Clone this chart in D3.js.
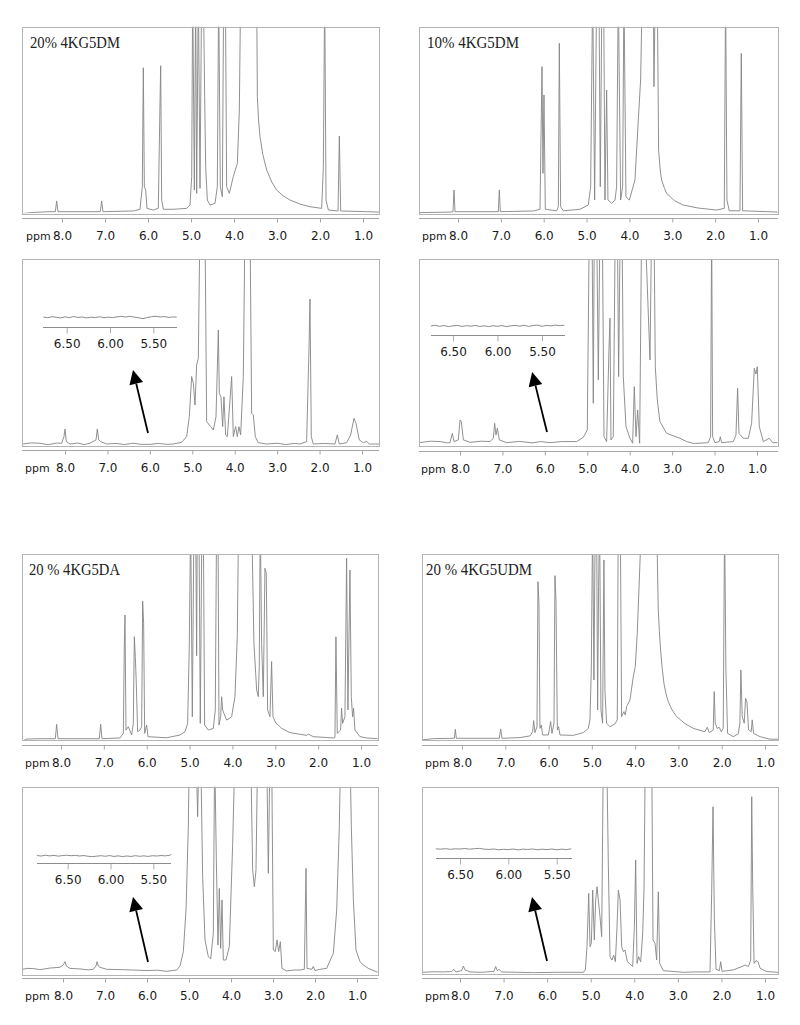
<!DOCTYPE html>
<html><head><meta charset="utf-8">
<script src="https://cdn.jsdelivr.net/npm/d3@7"></script>
<style>body{margin:0;background:#fff}svg{display:block}</style>
</head><body><svg id="c" width="800" height="1025"></svg>
<script>
// ---------- data (ppm, relative intensity; 1 = top of frame, >1 = off-scale) ----------
const tickValues = [8, 7, 6, 5, 4, 3, 2, 1];
const insetTicks = [6.5, 6.0, 5.5];
const titles = ["20% 4KG5DM", "10% 4KG5DM", "20 % 4KG5DA", "20 % 4KG5UDM"];

const spec20DM = [[8.92,-0.01],[8.67,-0.004],[8.28,0],[8.155,0],[8.124,0.058],[8.093,0],[7.109,0],[7.078,0.058],[7.047,0],[6.341,0.004],[6.186,0.013],[6.132,0.135],[6.109,0.778],[6.085,0.135],[6.054,0.117],[6.023,0.018],[5.876,0.009],[5.76,0.018],[5.721,0.586],[5.705,0.789],[5.682,0.063],[5.643,0.013],[5.411,0.013],[5.1,0.018],[5.023,0.036],[4.984,0.19],[4.961,1.2],[4.922,0.117],[4.891,1.2],[4.868,0.099],[4.829,1.2],[4.791,0.126],[4.752,1.2],[4.713,1.2],[4.682,0.622],[4.659,0.243],[4.62,0.063],[4.558,0.036],[4.442,0.045],[4.388,0.135],[4.357,1.2],[4.318,0.135],[4.271,0.081],[4.24,1.2],[4.2,1.2],[4.171,0.135],[4.109,0.099],[4.016,0.19],[3.922,0.261],[3.876,0.55],[3.845,1.2],[3.473,1.2],[3.457,0.622],[3.43,0.5],[3.395,0.405],[3.33,0.31],[3.24,0.225],[3.12,0.16],[3.008,0.117],[2.85,0.085],[2.698,0.063],[2.45,0.04],[2.233,0.027],[1.961,0.018],[1.922,0.243],[1.891,1.2],[1.86,0.063],[1.806,0.009],[1.581,0.004],[1.55,0.409],[1.519,0.004],[0.915,0],[0.62,-0.002]];

const spec10DM = [[8.902,-0.005],[8.187,-0.002],[8.117,0],[8.093,0.117],[8.07,0],[7.059,0],[7.036,0.117],[7.012,0],[6.243,0.004],[6.087,0.013],[6.04,0.784],[6.017,0.207],[5.994,0.631],[5.963,0.013],[5.698,0.005],[5.659,0.027],[5.636,0.91],[5.605,0.027],[5.543,0.005],[5.154,0.013],[4.96,0.036],[4.905,0.135],[4.858,1.2],[4.812,0.063],[4.765,1.2],[4.711,1.2],[4.68,0.135],[4.641,1.2],[4.602,1.2],[4.571,0.063],[4.532,0.658],[4.501,0.063],[4.415,0.045],[4.337,0.063],[4.299,0.135],[4.26,1.2],[4.205,0.063],[4.159,0.135],[4.128,1.2],[4.081,0.081],[4.003,0.063],[3.871,0.171],[3.793,0.495],[3.739,0.712],[3.7,1.2],[3.443,1.2],[3.428,0.676],[3.397,1.2],[3.35,1.2],[3.319,0.333],[3.28,0.22],[3.249,0.171],[3.18,0.125],[3.132,0.099],[2.95,0.06],[2.743,0.036],[2.4,0.02],[1.966,0.009],[1.787,0.018],[1.756,1.2],[1.725,0.063],[1.67,0.005],[1.421,0.005],[1.39,0.856],[1.359,0.005],[0.543,-0.002]];

const spec20DMzoom = [[9.005,0],[8.8,0.006],[8.589,0.004],[8.4,-0.004],[8.2,0.005],[8.079,0.004],[8.024,0.04],[8.0,0.081],[7.969,0.013],[7.882,0],[7.7,0.005],[7.55,-0.003],[7.411,0.004],[7.269,0.022],[7.238,0.081],[7.206,0.022],[7.159,0.013],[7.018,0],[6.8,0.003],[6.6,-0.003],[6.4,0.004],[6.2,-0.002],[5.997,-0.002],[5.8,0.003],[5.6,-0.002],[5.447,0],[5.251,0.009],[5.133,0.04],[5.07,0.148],[5.015,0.365],[4.976,0.329],[4.936,0.211],[4.897,0.428],[4.858,0.464],[4.819,1.2],[4.701,1.2],[4.661,0.121],[4.567,0.094],[4.504,0.076],[4.441,0.148],[4.386,0.617],[4.363,0.274],[4.324,0.256],[4.284,0.094],[4.253,0.256],[4.214,0.049],[4.174,0.04],[4.072,0.365],[4.033,0.04],[3.978,0.094],[3.939,0.04],[3.9,0.094],[3.86,0.049],[3.797,0.365],[3.758,1.2],[3.64,1.2],[3.601,0.166],[3.562,0.157],[3.515,0.04],[3.444,0.007],[3.248,0],[3.0,0.004],[2.8,-0.003],[2.6,0.003],[2.462,0],[2.305,0.013],[2.25,0.509],[2.226,0.785],[2.195,0.04],[2.148,0],[1.9,0.003],[1.637,0],[1.582,0.049],[1.535,0],[1.362,0.007],[1.268,0.049],[1.189,0.139],[1.142,0.112],[1.064,0.022],[0.969,0.007],[0.891,0.014],[0.828,0],[0.592,0]];

const spec10DMzoom = [[8.958,-0.002],[8.7,0.006],[8.471,0.004],[8.3,-0.003],[8.236,-0.002],[8.181,0.049],[8.141,0.004],[8.039,0.013],[8.0,0.122],[7.969,0.113],[7.921,0.013],[7.764,0],[7.5,0.006],[7.293,0.004],[7.214,0.022],[7.183,0.104],[7.152,0.04],[7.12,0.077],[7.073,0.013],[6.9,-0.002],[6.6,0.005],[6.3,-0.003],[6.1,0.004],[5.879,-0.002],[5.6,0.004],[5.251,0.004],[5.094,0.027],[5.0,0.067],[4.952,1.2],[4.889,1.2],[4.858,0.213],[4.834,1.2],[4.779,1.2],[4.74,0.341],[4.701,1.2],[4.646,1.2],[4.606,0.031],[4.544,0.004],[4.489,0.505],[4.465,0.678],[4.442,0.013],[4.387,0.031],[4.34,1.2],[4.292,1.2],[4.261,0.359],[4.222,1.2],[4.182,1.2],[4.151,0.359],[4.088,0.086],[3.994,0.022],[3.931,-0.005],[3.892,0.304],[3.852,0.031],[3.813,0.177],[3.766,-0.005],[3.719,1.2],[3.64,1.2],[3.522,0.45],[3.483,1.2],[3.428,1.2],[3.397,0.413],[3.35,0.231],[3.287,0.113],[3.13,0.049],[2.815,0.022],[2.658,0.004],[2.5,-0.006],[2.344,-0.005],[2.148,-0.002],[2.093,0.031],[2.069,1.2],[2.046,0.031],[1.991,-0.002],[1.889,0.004],[1.865,0.031],[1.834,-0.002],[1.559,0.004],[1.496,0.04],[1.457,0.295],[1.425,0.049],[1.323,0.022],[1.205,0.022],[1.127,0.104],[1.064,0.404],[1.025,0.373],[0.993,0.413],[0.946,0.086],[0.851,0.004],[0.71,0.022],[0.632,-0.002],[0.514,-0.002]];

const spec20DA = [[8.902,-0.013],[8.801,-0.002],[8.49,0],[8.132,0],[8.101,0.078],[8.07,0],[7.106,0],[7.075,0.078],[7.044,0],[6.624,0.004],[6.546,0.029],[6.523,0.508],[6.507,0.671],[6.484,0.047],[6.429,0.065],[6.39,0.043],[6.351,0.02],[6.313,0.083],[6.289,0.553],[6.266,0.445],[6.243,0.3],[6.212,0.038],[6.157,0.047],[6.118,0.065],[6.095,0.747],[6.072,0.626],[6.048,0.029],[6.002,0.074],[5.97,0.011],[5.535,0.005],[5.224,0.02],[5.107,0.038],[5.045,0.083],[5.006,0.517],[4.975,1.2],[4.936,0.119],[4.897,1.2],[4.858,1.2],[4.835,0.45],[4.82,1.2],[4.781,1.2],[4.75,0.083],[4.711,1.2],[4.68,1.2],[4.649,0.074],[4.563,0.047],[4.446,0.056],[4.4,0.156],[4.369,1.2],[4.337,1.2],[4.314,0.074],[4.275,0.119],[4.252,0.228],[4.229,0.156],[4.198,0.137],[4.135,0.101],[4.019,0.119],[3.941,0.228],[3.887,0.553],[3.855,1.2],[3.552,1.2],[3.498,0.517],[3.435,0.264],[3.397,0.228],[3.374,0.391],[3.35,1.2],[3.319,0.517],[3.28,0.228],[3.241,0.924],[3.21,0.897],[3.179,0.156],[3.124,0.119],[3.086,0.418],[3.054,0.119],[2.984,0.083],[2.93,0.074],[2.852,0.056],[2.658,0.033],[2.269,0.018],[2.23,0.025],[2.113,0.011],[1.647,0.004],[1.608,0.007],[1.585,0.553],[1.554,0.029],[1.476,0.047],[1.453,0.165],[1.429,0.083],[1.375,0.119],[1.336,0.978],[1.305,0.156],[1.258,0.915],[1.227,0.228],[1.196,0.119],[1.173,0.165],[1.142,0.047],[1.023,0.011],[0.869,0.004],[0.613,0]];

const spec20UDM = [[8.932,-0.009],[8.662,-0.002],[8.2,0],[8.177,0],[8.154,0.049],[8.131,0],[7.138,0],[7.107,0.051],[7.076,0],[6.66,0.004],[6.43,0.013],[6.368,0.036],[6.345,0.096],[6.314,0.031],[6.268,0.063],[6.245,0.851],[6.222,0.734],[6.199,0.054],[6.168,0.072],[6.137,0.018],[6.006,0.018],[5.952,0.091],[5.921,0.027],[5.875,0.082],[5.852,0.884],[5.829,0.752],[5.798,0.045],[5.768,0.063],[5.737,0.018],[5.429,0.016],[5.198,0.031],[5.082,0.054],[5.044,0.1],[5.013,0.371],[4.982,1.2],[4.952,0.317],[4.921,1.2],[4.89,1.2],[4.867,0.154],[4.844,0.824],[4.821,1.2],[4.79,0.154],[4.752,0.082],[4.721,0.969],[4.698,0.263],[4.66,0.082],[4.582,0.063],[4.467,0.078],[4.413,0.1],[4.39,1.2],[4.343,1.2],[4.313,0.118],[4.259,0.145],[4.228,0.127],[4.197,0.172],[4.12,0.208],[4.043,0.335],[3.997,0.39],[3.951,0.571],[3.889,0.951],[3.851,1.2],[3.505,1.2],[3.466,0.697],[3.44,0.58],[3.412,0.48],[3.375,0.38],[3.335,0.299],[3.29,0.245],[3.235,0.199],[3.15,0.155],[3.042,0.118],[2.85,0.08],[2.657,0.054],[2.388,0.036],[2.334,0.06],[2.288,0.031],[2.196,0.045],[2.173,0.254],[2.15,0.082],[2.103,0.054],[2.057,0.06],[2.011,0.036],[1.965,0.054],[1.934,1.2],[1.903,0.371],[1.865,0.027],[1.734,0.009],[1.618,0.024],[1.58,0.082],[1.557,0.371],[1.526,0.118],[1.48,0.082],[1.449,0.217],[1.418,0.199],[1.379,0.045],[1.318,0.036],[1.295,0.1],[1.264,0.027],[1.118,0.009],[0.885,-0.005],[0.694,-0.005]];

const spec20DAzoom = [[8.968,0],[8.85,0.005],[8.706,0.004],[8.55,-0.002],[8.31,0.007],[8.071,0.011],[7.992,0.024],[7.952,0.042],[7.921,0.018],[7.833,0.005],[7.6,0.002],[7.4,-0.003],[7.278,0],[7.214,0.018],[7.19,0.042],[7.159,0.018],[7.119,0.011],[6.96,0],[6.6,-0.002],[6.325,-0.004],[6.0,-0.007],[5.75,-0.005],[5.532,-0.011],[5.294,-0.004],[5.214,0.018],[5.135,0.097],[5.071,0.325],[5.016,0.781],[4.992,1.2],[4.833,1.2],[4.794,0.836],[4.762,1.2],[4.722,1.2],[4.675,0.507],[4.619,0.161],[4.54,0.069],[4.484,0.057],[4.421,0.197],[4.389,1.2],[4.349,0.599],[4.31,0.133],[4.278,0.443],[4.246,0.115],[4.214,0.38],[4.183,0.051],[4.119,0.051],[4.04,0.124],[3.96,0.69],[3.905,1.2],[3.532,1.2],[3.484,0.544],[3.444,0.453],[3.405,0.544],[3.365,1.2],[3.151,1.2],[3.111,0.526],[3.071,1.2],[3.032,1.2],[2.992,0.106],[2.944,0.097],[2.905,0.161],[2.865,0.097],[2.825,0.151],[2.786,0.005],[2.675,-0.009],[2.5,-0.004],[2.357,-0.004],[2.254,0],[2.214,0.553],[2.19,0.005],[2.079,0],[2.04,0.015],[2.0,-0.007],[1.881,0],[1.722,0.005],[1.563,0.088],[1.484,0.325],[1.421,0.781],[1.389,1.2],[1.167,1.2],[1.135,0.781],[1.087,0.38],[1.024,0.106],[0.929,0.042],[0.849,0.024],[0.73,0.005],[0.508,-0.016]];

const spec20UDMzoom = [[8.88,0],[8.6,0.003],[8.383,0.002],[8.191,0.004],[8.138,0.016],[8.099,0.002],[7.962,0.009],[7.923,0.034],[7.885,0.013],[7.77,0.002],[7.5,0],[7.22,0.005],[7.181,0.031],[7.143,0.009],[7.105,0.016],[7.044,0.002],[6.7,0],[6.317,-0.002],[5.8,0],[5.169,0],[5.123,0.013],[5.085,0.138],[5.046,0.425],[5.016,0.138],[4.985,0.156],[4.955,0.443],[4.917,0.174],[4.886,0.39],[4.855,0.461],[4.825,0.39],[4.787,0.3],[4.748,0.192],[4.71,1.2],[4.634,1.2],[4.595,0.569],[4.557,0.084],[4.511,0.066],[4.473,0.093],[4.434,0.057],[4.396,0.246],[4.366,0.443],[4.327,0.39],[4.289,0.138],[4.251,0.111],[4.213,0.12],[4.159,0.057],[4.037,0.031],[3.998,0.246],[3.968,0.605],[3.937,0.048],[3.899,0.084],[3.853,0.057],[3.807,0.21],[3.777,0.443],[3.746,1.2],[3.601,1.2],[3.57,0.174],[3.524,0.156],[3.486,0.066],[3.448,0.434],[3.417,0.048],[3.333,0.009],[2.874,0],[2.6,0.002],[2.262,0.002],[2.224,0.425],[2.193,0.892],[2.162,0.282],[2.124,0.016],[2.047,0.009],[2.017,0.057],[1.986,0.005],[1.726,0.013],[1.573,0.027],[1.458,0.039],[1.382,0.031],[1.328,0.066],[1.305,0.946],[1.282,0.461],[1.251,0.048],[1.205,0.063],[1.159,0.057],[1.113,0.022],[0.96,0.004],[0.693,0]];

// inset traces (ppm, baseline noise)
const insetDM20 = [[6.77,0.2],[6.72,-0.3],[6.67,0.4],[6.62,0],[6.57,-0.4],[6.52,0.3],[6.47,-0.2],[6.42,0.5],[6.37,-0.1],[6.32,0.2],[6.27,-0.4],[6.22,0.1],[6.17,-0.2],[6.12,0.4],[6.07,-0.3],[6.02,0.1],[5.97,-0.2],[5.92,0.3],[5.87,0.6],[5.82,0.2],[5.77,0.7],[5.72,0.1],[5.67,-0.3],[5.62,-0.9],[5.57,-0.2],[5.52,0.4],[5.47,0.7],[5.42,0.2],[5.37,0.5],[5.32,-0.1],[5.27,0.3],[5.23,0.1]];
const insetDM10 = [[6.75,0],[6.70,0.5],[6.65,-0.2],[6.60,0.3],[6.55,-0.4],[6.50,0.1],[6.45,0.4],[6.40,-0.3],[6.35,0.2],[6.30,-0.1],[6.25,0.4],[6.20,-0.3],[6.15,0.1],[6.10,-0.4],[6.05,0.2],[6.00,-0.2],[5.95,0.3],[5.90,-0.4],[5.85,0.1],[5.80,0.4],[5.75,-0.1],[5.70,0.5],[5.65,-0.3],[5.60,0.3],[5.55,0.6],[5.50,-0.2],[5.45,0.4],[5.40,0.1],[5.35,0.6],[5.30,0.2],[5.25,0.5]];
const insetDA20 = [[6.86,0.3],[6.81,0],[6.76,0.5],[6.71,0.1],[6.66,0.4],[6.61,-0.1],[6.56,0.3],[6.51,0.5],[6.46,0.2],[6.41,0.4],[6.36,0],[6.31,0.3],[6.26,-0.2],[6.21,-0.4],[6.16,-0.1],[6.11,0.2],[6.06,-0.2],[6.01,0.3],[5.96,-0.3],[5.91,0.1],[5.86,-0.4],[5.81,0],[5.76,-0.3],[5.71,0.2],[5.66,-0.2],[5.61,0.1],[5.56,-0.3],[5.51,0.2],[5.46,0],[5.41,0.3],[5.36,0.1],[5.31,0.5],[5.29,0.9]];
const insetUDM20 = [[6.75,0.3],[6.70,0.1],[6.65,0.4],[6.60,0],[6.55,0.3],[6.50,0.2],[6.45,0.5],[6.40,0.1],[6.35,0.4],[6.30,0.6],[6.25,0.1],[6.20,-0.1],[6.15,0.2],[6.10,-0.3],[6.05,0],[6.00,-0.2],[5.95,0.2],[5.90,-0.4],[5.85,0.1],[5.80,-0.1],[5.75,0.2],[5.70,-0.3],[5.65,0.1],[5.60,-0.2],[5.55,0.2],[5.50,-0.3],[5.45,0.1],[5.40,-0.2],[5.35,0.3]];

// arrow annotations: [tail, tip] in (ppm, intensity)
const arrowDM20 = [[6.044,0.06],[6.397,0.40]];
const arrowDM10 = [[5.95,0.056],[6.30,0.384]];
const arrowDA20 = [[5.976,0.04],[6.333,0.396]];
const arrowUDM20 = [[6.003,0.061],[6.348,0.406]];

// ---------- layout ----------
const panels = [
  {data:spec20DM, title:titles[0], x0:22, x1:379, top:26.7, bot:213.3, base:211.7, axisY:218, t8:62, t1:363, ppmX:26, titleX:30, titleY:48, titleW:90},
  {data:spec10DM, title:titles[1], x0:419, x1:778, top:26.7, bot:213.3, base:211.7, axisY:218, t8:458, t1:758, ppmX:422, titleX:427, titleY:48, titleW:92},
  {data:spec20DMzoom, x0:22, x1:379, top:259.3, bot:446.7, base:444, axisY:450, t8:65, t1:362, ppmX:25,
    inset:{data:insetDM20, x0:43, x1:177, t65:66.7, t55:153.3, lineY:317.3, axisY:326.7}, arrow:arrowDM20},
  {data:spec10DMzoom, x0:419, x1:778, top:259.3, bot:446.7, base:442.3, axisY:450.5, t8:460, t1:757, ppmX:421,
    inset:{data:insetDM10, x0:431, x1:565, t65:453, t55:542, lineY:326, axisY:335.3}, arrow:arrowDM10},
  {data:spec20DA, title:titles[2], x0:22, x1:378, top:554.3, bot:740.7, base:738.7, axisY:745, t8:61, t1:361, ppmX:25, titleX:29, titleY:575, titleW:91},
  {data:spec20UDM, title:titles[3], x0:422, x1:778, top:554.3, bot:740.3, base:738.3, axisY:745, t8:462, t1:765, ppmX:425, titleX:426, titleY:575, titleW:106},
  {data:spec20DAzoom, x0:22, x1:378, top:786.7, bot:975, base:969.3, axisY:978, t8:63, t1:357, ppmX:25,
    inset:{data:insetDA20, x0:37, x1:171, t65:67.7, t55:153.3, lineY:856, axisY:862.7}, arrow:arrowDA20},
  {data:spec20UDMzoom, x0:422, x1:778, top:786.7, bot:973.3, base:972.3, axisY:977.5, t8:460, t1:765, ppmX:425,
    inset:{data:insetUDM20, x0:436, x1:572, t65:460, t55:556.7, lineY:849.3, axisY:858.3}, arrow:arrowUDM20}
];

const svg = d3.select("#c");
const labelFont = "'DejaVu Sans', Verdana, sans-serif";

panels.forEach((p, i) => {
  const g = svg.append("g");
  const x = d3.scaleLinear().domain([8, 1]).range([p.t8, p.t1]);
  const y = d3.scaleLinear().domain([0, 1]).range([p.base, p.top]);

  const clipId = "clip" + i;
  svg.append("clipPath").attr("id", clipId).append("rect")
    .attr("x", p.x0).attr("y", p.top).attr("width", p.x1 - p.x0).attr("height", p.bot - p.top);

  g.append("path").datum(p.data)
    .attr("clip-path", `url(#${clipId})`)
    .attr("fill", "none").attr("stroke", "#858585").attr("stroke-width", 0.9)
    .attr("stroke-linejoin", "round")
    .attr("d", d3.line().x(d => x(d[0])).y(d => y(d[1])));

  g.append("rect")
    .attr("x", Math.round(p.x0) + 0.5).attr("y", Math.round(p.top) + 0.5)
    .attr("width", Math.round(p.x1 - p.x0)).attr("height", Math.round(p.bot - p.top))
    .attr("fill", "none").attr("stroke", "#b4b4b4").attr("stroke-width", 1);

  const ax = g.append("g").attr("transform", `translate(0,${Math.round(p.axisY) + 0.5})`)
    .call(d3.axisBottom(x).tickValues(tickValues).tickFormat(d3.format(".1f"))
      .tickSize(4).tickSizeOuter(0).tickPadding(9));
  ax.select(".domain").remove();
  ax.append("line").attr("x1", p.x0).attr("x2", p.x1).attr("stroke", "#a6a6a6");
  ax.selectAll(".tick line").attr("stroke", "#a6a6a6");
  ax.selectAll(".tick text").attr("font-family", labelFont).attr("font-size", 12).attr("fill", "#1a1a1a");

  g.append("text").attr("x", p.ppmX).attr("y", Math.round(p.axisY) + 22)
    .attr("font-family", labelFont).attr("font-size", 11).attr("fill", "#1a1a1a").text("ppm");

  if (p.title) {
    g.append("text").attr("x", p.titleX).attr("y", p.titleY)
      .attr("font-family", "'Liberation Serif', 'Times New Roman', serif").attr("font-size", 16.5)
      .attr("fill", "#222").attr("textLength", p.titleW).attr("lengthAdjust", "spacingAndGlyphs")
      .text(p.title);
  }

  if (p.inset) {
    const q = p.inset;
    const xi = d3.scaleLinear().domain([6.5, 5.5]).range([q.t65, q.t55]);
    const yi = d3.scaleLinear().domain([-1, 1]).range([q.lineY + 1.5, q.lineY - 1.5]);
    g.append("path").datum(q.data).attr("fill", "none").attr("stroke", "#6e6e6e").attr("stroke-width", 0.8)
      .attr("d", d3.line().x(d => xi(d[0])).y(d => yi(d[1])));
    const iax = g.append("g").attr("transform", `translate(0,${Math.round(q.axisY) + 0.5})`)
      .call(d3.axisBottom(xi).tickValues(insetTicks).tickFormat(d3.format(".2f"))
        .tickSize(6).tickSizeOuter(0).tickPadding(6));
    iax.select(".domain").remove();
    iax.append("line").attr("x1", q.x0).attr("x2", q.x1).attr("stroke", "#8c8c8c");
    iax.selectAll(".tick line").attr("stroke", "#b0b0b0");
    iax.selectAll(".tick text").attr("font-family", labelFont).attr("font-size", 12).attr("fill", "#1a1a1a");
  }

  if (p.arrow) {
    const [t, h] = p.arrow;
    const tx = x(t[0]), ty = y(t[1]), hx = x(h[0]), hy = y(h[1]);
    const ang = Math.atan2(hy - ty, hx - tx);
    const L = 14, W = 7;
    const bx = hx - L * Math.cos(ang), by = hy - L * Math.sin(ang);
    g.append("line").attr("x1", tx).attr("y1", ty).attr("x2", bx).attr("y2", by)
      .attr("stroke", "#000").attr("stroke-width", 1.8);
    const px = -Math.sin(ang), py = Math.cos(ang);
    g.append("path")
      .attr("d", `M${hx},${hy}L${bx + W * px},${by + W * py}L${bx - W * px},${by - W * py}Z`)
      .attr("fill", "#000");
  }
});
</script>
</body></html>
